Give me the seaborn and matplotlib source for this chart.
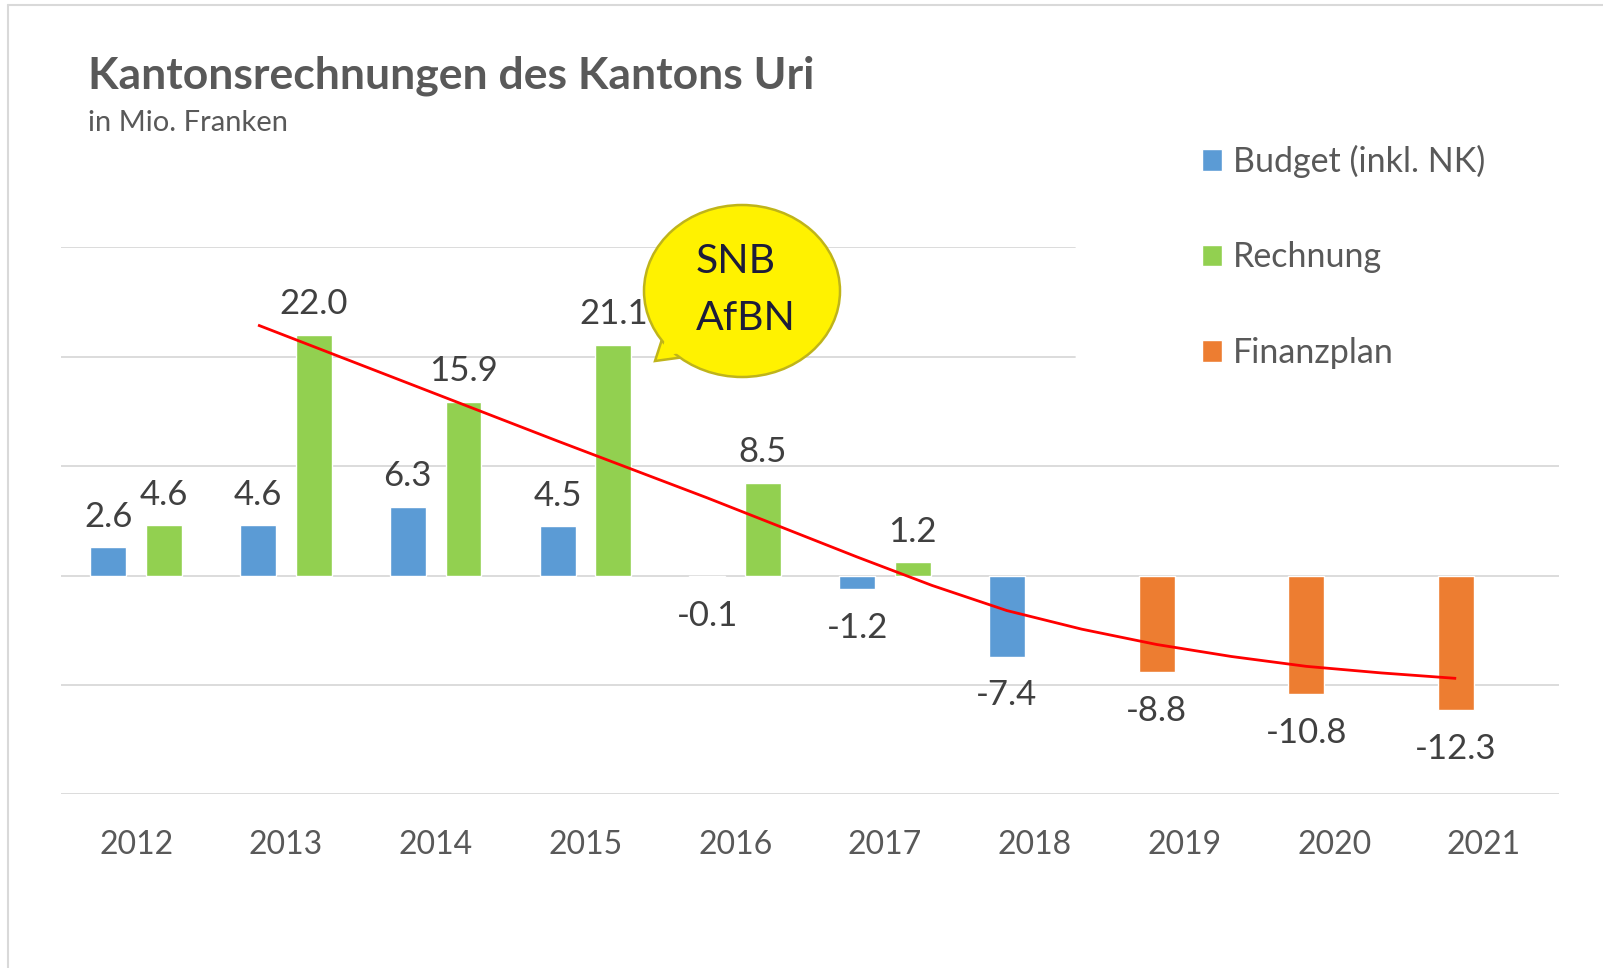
import pandas as pd
import seaborn as sns
import matplotlib.pyplot as plt
from matplotlib.patches import Ellipse, Polygon, Patch
from matplotlib.lines import Line2D

# Jahre und Werte (Mio. Franken)
jahre = ["2012", "2013", "2014", "2015", "2016", "2017", "2018", "2019", "2020", "2021"]
budget = [2.6, 4.6, 6.3, 4.5, -0.1, -1.2, -7.4]
finanzplan = [-8.8, -10.8, -12.3]
rechnung = [4.6, 22.0, 15.9, 21.1, 8.5, 1.2]

trend_jahr = [2013, 2014, 2015, 2016, 2016.5, 2017, 2017.5, 2018, 2018.5,
              2019, 2019.5, 2020, 2020.5, 2021]
trend_werte = [22.9, 17.6, 12.3, 7.1, 4.4, 1.7, -0.9, -3.2, -4.9,
               -6.3, -7.4, -8.3, -8.9, -9.4]

BLAU = "#5B9BD5"
GRUEN = "#92D050"
ORANGE = "#ED7D31"
GRAU = "#595959"

sns.set_style("white")
plt.rcParams["font.family"] = ["Lato", "DejaVu Sans"]

links = budget + finanzplan
df = pd.DataFrame({
    "Jahr": jahre + jahre[:len(rechnung)],
    "Wert": links + rechnung,
    "Slot": ["links"] * len(links) + ["rechts"] * len(rechnung),
})

fig = plt.figure(figsize=(16.03, 9.68), dpi=100)
ax = fig.add_axes([0.0382, 0.1794, 0.9343, 0.565])

# Gitterlinien (oben von der Legende verdeckt)
for y in [30, 20, 10, 0, -10, -20]:
    ax.axhline(y, xmax=0.677 if y >= 20 else 1, color="#D9D9D9", lw=1.3, zorder=0)

sns.barplot(data=df, x="Jahr", y="Wert", hue="Slot", hue_order=["links", "rechts"],
            order=jahre, palette={"links": BLAU, "rechts": GRUEN}, saturation=1,
            width=0.744, gap=0.355, legend=False, ax=ax, zorder=2)

fp_start = len(budget)
for p in ax.patches:
    cx = p.get_x() + p.get_width() / 2
    idx = int(round(cx))
    if cx < idx and idx >= fp_start:
        p.set_facecolor(ORANGE)
    h = p.get_height()
    ax.annotate(f"{h:.1f}", (cx, h), xytext=(0, 22 if h >= 0 else -28),
                textcoords="offset points", ha="center", va="center",
                fontsize=25, color="#404040", zorder=5)

tx = [j - int(jahre[0]) - 0.186 for j in trend_jahr]
ax.plot(tx, trend_werte, color="red", lw=2.0, zorder=4, solid_capstyle="butt")

ax.set_xlim(-0.5, 9.5)
ax.set_ylim(-20, 30)
ax.set_yticks([])
ax.set_xlabel("")
ax.set_ylabel("")
ax.tick_params(axis="x", length=0, pad=26, labelsize=23, labelcolor=GRAU)
sns.despine(ax=ax, left=True, bottom=True)

# Titel
fig.text(88 / 1603, 1 - 88 / 968, "Kantonsrechnungen des Kantons Uri", fontsize=32,
         fontweight="bold", color=GRAU, va="baseline")
fig.text(88 / 1603, 1 - 131 / 968, "in Mio. Franken", fontsize=21, color=GRAU, va="baseline")

# Legende
handles = [Patch(facecolor=BLAU), Patch(facecolor=GRUEN), Patch(facecolor=ORANGE)]
fig.legend(handles, ["Budget (inkl. NK)", "Rechnung", "Finanzplan"],
           loc="upper left", bbox_to_anchor=(1185 / 1603, 1 - 128 / 968),
           frameon=False, fontsize=24.5, labelcolor=GRAU, handlelength=0.6,
           handleheight=0.6, handletextpad=0.3, labelspacing=1.86, borderpad=0)

# Sprechblase
W, H = 1603, 968
tail = [(665 / W, 1 - 330 / H), (655 / W, 1 - 361 / H), (692 / W, 1 - 356 / H)]
fig.patches.append(Polygon(tail, closed=True, transform=fig.transFigure,
                           facecolor="#FFF200", edgecolor="#BFB41A", lw=1.8, zorder=10))
fig.patches.append(Ellipse((742 / W, 1 - 291 / H), 196 / W, 172 / H, transform=fig.transFigure,
                           facecolor="#FFF200", edgecolor="#BFB41A", lw=1.8, zorder=11))
inner = [(668 / W, 1 - 326 / H), (661 / W, 1 - 356 / H), (688 / W, 1 - 352 / H)]
fig.patches.append(Polygon(inner, closed=True, transform=fig.transFigure,
                           facecolor="#FFF200", edgecolor="none", zorder=12))
fig.text(736 / W, 1 - 261 / H, "SNB", fontsize=29.5, color="#1C1C3A", ha="center", va="center", zorder=13)
fig.text(746 / W, 1 - 318 / H, "AfBN", fontsize=29.5, color="#1C1C3A", ha="center", va="center", zorder=13)

# Rahmen
fig.lines.append(Line2D([8 / W, 1], [1 - 5 / H, 1 - 5 / H], transform=fig.transFigure, color="#D9D9D9", lw=1.5))
fig.lines.append(Line2D([8 / W, 8 / W], [0, 1 - 5 / H], transform=fig.transFigure, color="#D9D9D9", lw=1.5))

fig.savefig("out.png", dpi=100)
